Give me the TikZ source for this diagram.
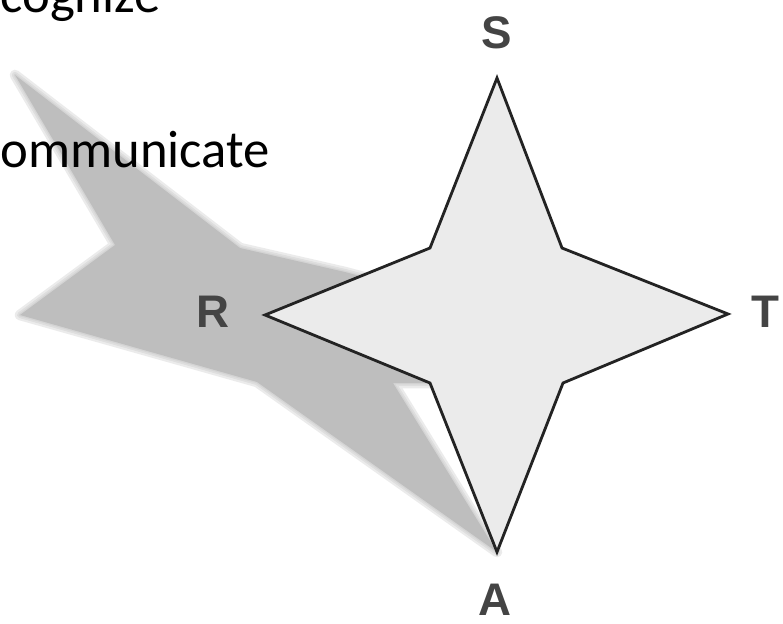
\documentclass[tikz,border=0pt]{standalone}
\usepackage{fontspec}
\usepackage{xcolor}
\usepackage{tikz}
\newfontfamily\labelfont{Liberation Sans}
\newfontfamily\wordfont{Carlito}
\definecolor{starfill}{RGB}{235,235,235}
\definecolor{starline}{RGB}{35,35,35}
\definecolor{shadowgray}{RGB}{190,190,190}
\definecolor{labelgray}{RGB}{68,68,68}
\newcommand{\shadowpath}{(15,75) -- (240,248) -- (345,272) -- (450,300)
    -- (450,383) -- (393,383) -- (497,552) -- (257,382)
    -- (20,315) -- (115,245) -- cycle}

\begin{document}
\begin{tikzpicture}[x=0.02cm, y=-0.02cm,
        corner/.style={font=\labelfont\bfseries\fontsize{26}{30}\selectfont,
                       text=labelgray, inner sep=0pt},
        word/.style={font=\wordfont\fontsize{30}{36}\selectfont,
                     anchor=base west, inner sep=0pt},
        blur/.style={draw=shadowgray, line join=round, opacity=0.3},
    ]
        \useasboundingbox (0,0) rectangle (783,624);

        % Shadow, soft edge first
        \foreach \w in {6,3.5,1.5}
            \path[blur, line width=\w pt] \shadowpath;
        \fill[shadowgray] \shadowpath;

        % Words at the left edge
        \node[word] (cognize) at (0,13) {cognize};
        \node[word] (communicate) at (0,168) {ommunicate};

        % Star
        \coordinate (tS) at (497,78);
        \coordinate (tT) at (728,314);
        \coordinate (tA) at (497,552);
        \coordinate (tR) at (265,315);
        \filldraw[fill=starfill, draw=starline, line width=1.6pt, line join=miter]
              (tS) -- (562,248) -- (tT) -- (563,383) -- (tA)
              -- (430,383) -- (tR) -- (430,248) -- cycle;

        % Labels
        \node[corner] (S) at (497,33)  {S};
        \node[corner] (T) at (765,312) {T};
        \node[corner] (R) at (213,312) {R};
        \node[corner] (A) at (495,600) {A};
    \end{tikzpicture}
\end{document}
